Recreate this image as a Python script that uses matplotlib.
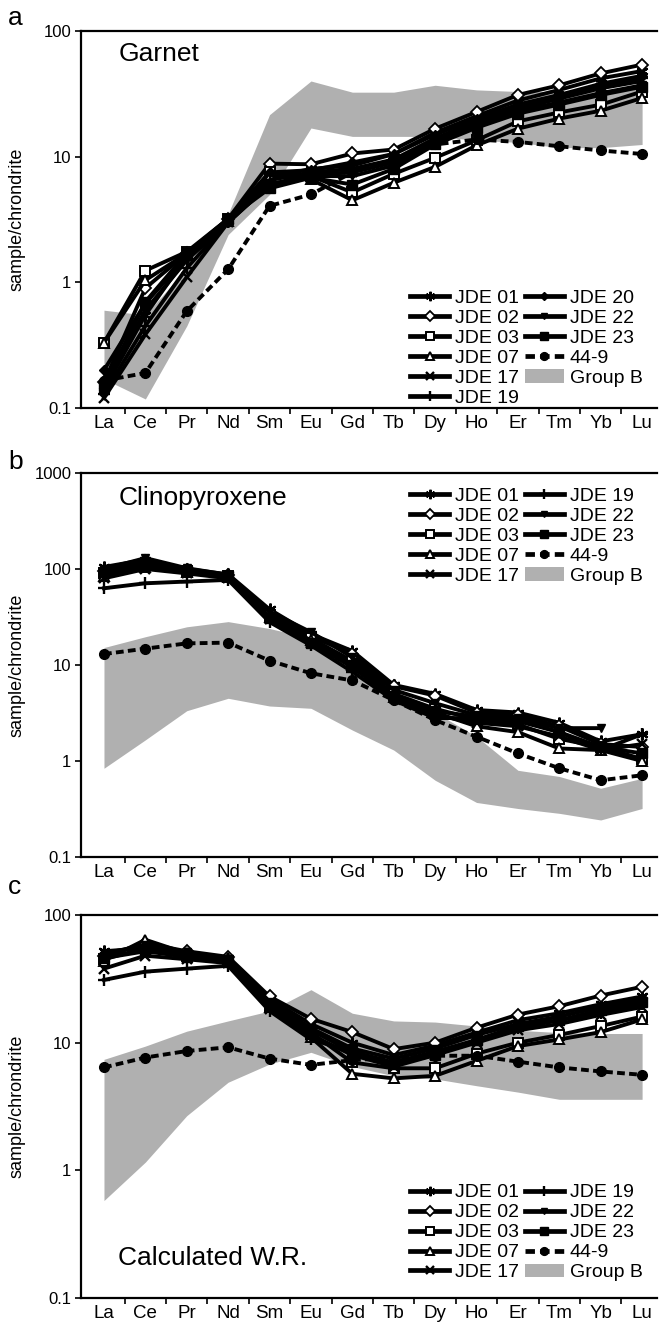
import numpy as np
import matplotlib
matplotlib.use("Agg")
import matplotlib.pyplot as plt
from matplotlib.ticker import FixedLocator, FixedFormatter
from matplotlib.patches import Patch

plt.rcParams['font.family'] = ['Liberation Sans', 'DejaVu Sans']

ree = ["La", "Ce", "Pr", "Nd", "Sm", "Eu", "Gd", "Tb", "Dy", "Ho", "Er", "Tm", "Yb", "Lu"]
x = np.arange(1, len(ree) + 1)

# ---------------- Garnet ----------------
grt_JDE01 = [0.14, 0.55, 1.6, 3.1, 6.8, 8.0, 8.5, 10.5, 15.5, 21, 28, 34, 42, 48]
grt_JDE02 = [0.16, 0.9, 1.7, 3.2, 8.8, 8.7, 10.6, 11.4, 16.7, 22.7, 31, 37, 46, 54]
grt_JDE03 = [0.33, 1.24, 1.75, 3.2, 7.5, 7.0, 5.2, 7.3, 9.8, 13.5, 19.1, 22.5, 25.9, 33]
grt_JDE07 = [0.33, 1.04, 1.7, 3.1, 7.0, 6.6, 4.5, 6.2, 8.3, 12.3, 16.7, 20.1, 23.2, 29.3]
grt_JDE17 = [0.12, 0.385, 1.1, 3.0, 6.0, 7.2, 7.5, 9.0, 13.5, 18, 24, 29, 35, 40]
grt_JDE19 = [0.13, 0.45, 1.3, 3.0, 6.5, 7.5, 8.0, 9.5, 14, 19, 25, 30, 36, 42]
grt_JDE20 = [0.2, 0.68, 1.6, 3.1, 7.5, 7.8, 9.0, 10.5, 15, 20, 26, 31, 38, 44]
grt_JDE22 = [0.15, 0.6, 1.5, 3.0, 6.0, 7.0, 7.0, 8.5, 13, 18, 23, 27, 32, 37]
grt_JDE23 = [0.15, 0.7, 1.7, 3.2, 5.6, 6.8, 6.0, 8.0, 12.5, 17, 22, 26, 31, 36]
grt_449 = [0.165, 0.19, 0.59, 1.27, 4.06, 5.0, 7.5, 9.5, 12.5, 13.7, 13.1, 12.1, 11.2, 10.5]
grt_B_upper = [0.6, 0.55, 1.3, 3.5, 21.6, 40, 32.6, 32.6, 37, 34, 33, 33, 33, 37]
grt_B_lower = [0.17, 0.118, 0.45, 2.4, 5.0, 16.9, 14.5, 14.5, 14.5, 13.5, 13, 11.8, 11.8, 12.5]

# ---------------- Clinopyroxene ----------------
cpx_JDE01 = [105, 125, 100, 88, 38, 21, 14, 6.2, 5.0, 3.4, 3.2, 2.5, 1.6, 1.9]
cpx_JDE02 = [95, 120, 98, 86, 35, 20, 13, 6.0, 4.8, 3.2, 3.0, 2.3, 1.5, 1.4]
cpx_JDE03 = [90, 110, 95, 85, 33, 19, 11, 5.0, 3.5, 2.7, 2.4, 1.7, 1.4, 1.05]
cpx_JDE07 = [85, 105, 92, 82, 32, 18, 10, 4.6, 3.2, 2.3, 2.0, 1.35, 1.3, 1.0]
cpx_JDE17 = [80, 100, 90, 80, 30, 17, 9.5, 4.5, 3.0, 2.5, 2.3, 1.8, 1.3, 1.5]
cpx_JDE19 = [63, 71, 74, 77, 28, 16, 8.5, 4.3, 2.8, 2.8, 2.6, 2.0, 1.3, 1.9]
cpx_JDE22 = [100, 130, 102, 87, 36, 22, 12, 5.5, 4.0, 3.0, 2.8, 2.2, 2.2, np.nan]
cpx_JDE23 = [92, 115, 96, 84, 31, 17, 10, 4.8, 3.3, 2.9, 2.7, 2.0, 1.4, 1.2]
cpx_449 = [13, 14.8, 16.8, 17.1, 11.1, 8.2, 6.9, 4.3, 2.67, 1.79, 1.2, 0.84, 0.63, 0.71]
cpx_B_upper = [15.2, 19.7, 25, 28.3, 24, 19, 11, 6, 3.2, 1.8, 0.8, 0.69, 0.52, 0.66]
cpx_B_lower = [0.84, 1.66, 3.34, 4.5, 3.74, 3.54, 2.1, 1.3, 0.63, 0.37, 0.32, 0.285, 0.243, 0.32]

# ---------------- Calculated whole rock ----------------
wr_JDE01 = [52, 55, 50, 46, 22, 14, 10, 8.0, 9.5, 12, 15, 17, 20, 23]
wr_JDE02 = [48, 60, 52, 47, 23, 15.4, 12.1, 8.9, 10, 13.1, 16.6, 19.3, 23.4, 27.4]
wr_JDE03 = [45, 55, 48, 44, 20, 12, 7.0, 6.3, 6.3, 8.2, 10, 11.5, 13.5, 16]
wr_JDE07 = [44, 64, 50, 46, 19, 11, 5.7, 5.25, 5.5, 7.2, 9.4, 10.6, 12.1, 15.2]
wr_JDE17 = [38, 48, 45, 42, 18.5, 11.5, 8.0, 6.5, 8.0, 10, 12.5, 14, 16.5, 19]
wr_JDE19 = [31, 36, 38, 40, 17.7, 10.6, 8.5, 7.0, 8.5, 10.5, 13, 15, 17, 20]
wr_JDE22 = [50, 58, 51, 45, 21, 13, 9, 7.5, 9.0, 11.5, 14, 16, 19, 22]
wr_JDE23 = [46, 52, 47, 43, 20, 12.5, 8.5, 6.8, 8.0, 10.5, 13.5, 15, 18, 21]
wr_449 = [6.4, 7.65, 8.6, 9.2, 7.5, 6.7, 7.3, 7.6, 7.9, 7.9, 7.1, 6.4, 5.95, 5.6]
wr_B_upper = [7.4, 9.4, 12.3, 14.8, 17.7, 26, 17, 14.8, 14.5, 13.5, 12.5, 12, 11.8, 11.8]
wr_B_lower = [0.58, 1.16, 2.68, 4.9, 6.8, 8.4, 6.5, 5.5, 5.2, 4.6, 4.1, 3.6, 3.6, 3.6]

styles = {
    "JDE 01": dict(marker=(6, 2, 0), mfc='black', ms=8.5, mew=1.6),
    "JDE 02": dict(marker='D', mfc='white', ms=6, mew=1.3),
    "JDE 03": dict(marker='s', mfc='white', ms=7.5, mew=1.4),
    "JDE 07": dict(marker='^', mfc='white', ms=7.5, mew=1.4),
    "JDE 17": dict(marker='x', mfc='black', ms=7.5, mew=1.7),
    "JDE 19": dict(marker='+', mfc='black', ms=8.5, mew=1.7),
    "JDE 20": dict(marker='D', mfc='black', ms=5.5, mew=1.0),
    "JDE 22": dict(marker='v', mfc='black', ms=5.5, mew=1.0),
    "JDE 23": dict(marker='s', mfc='black', ms=7.5, mew=1.0),
    "44-9": dict(marker='o', mfc='black', ms=7, mew=1.0, ls=(0, (2.0, 1.1))),
}

GRAY = '#b0b0b0'

fig = plt.figure(figsize=(6.59, 13.26), dpi=100)
W, H = 659.0, 1326.0


def make_axes(top_px, bot_px):
    left, right = 81.0, 657.0
    return fig.add_axes([left / W, 1 - bot_px / H, (right - left) / W, (bot_px - top_px) / H])


def draw_panel(ax, series, upper, lower, ylim, yticks, title, title_y, letter, letter_y,
               leg_anchor, order):
    ax.fill_between(x, lower, upper, color=GRAY, lw=0, zorder=1)
    handles = {}
    for name, vals in series:
        st = dict(styles[name])
        ls = st.pop('ls', '-')
        h, = ax.plot(x, vals, color='black', lw=2.8, ls=ls, mec='black',
                     zorder=3 if name != "44-9" else 4, label=name, **st)
        handles[name] = h
    handles["Group B"] = Patch(facecolor=GRAY, edgecolor='none')
    ax.set_yscale('log')
    ax.set_ylim(*ylim)
    ax.set_xlim(0.445, 14.36)
    ax.yaxis.set_major_locator(FixedLocator(yticks))
    ax.yaxis.set_major_formatter(FixedFormatter([("%g" % t) for t in yticks]))
    ax.yaxis.set_minor_locator(FixedLocator([]))
    ax.set_xticks(x)
    ax.set_xticklabels(ree, fontsize=13.5)
    ax.xaxis.set_minor_locator(FixedLocator(x[:-1] + 0.5))
    ax.tick_params(axis='x', which='major', length=0, pad=5)
    ax.tick_params(axis='x', which='minor', length=4, width=1.2, direction='out')
    ax.tick_params(axis='y', which='major', length=4, width=1.2, direction='out', labelsize=12, pad=3)
    for s in ['left', 'bottom', 'top']:
        ax.spines[s].set_linewidth(1.6)
    ax.spines['right'].set_visible(False)
    ax.set_ylabel("sample/chrondrite", fontsize=13)
    ax.yaxis.set_label_coords(-0.097, 0.5)
    ax.text(0.065, title_y, title, transform=ax.transAxes, fontsize=19, va='center', ha='left')
    fig.text(8 / W, 1 - letter_y / H, letter, fontsize=19, va='center', ha='left')
    leg = ax.legend([handles[n] for n in order], order, loc='upper left', bbox_to_anchor=leg_anchor,
                    ncol=2, frameon=False, fontsize=14, handlelength=2.0, handletextpad=0.3,
                    columnspacing=0.3, labelspacing=0.12, borderpad=0, borderaxespad=0,
                    markerscale=0.8)
    for lh in leg.get_lines():
        lh.set_linewidth(3.4)


axa = make_axes(31, 408)
series_a = [("JDE 01", grt_JDE01), ("JDE 02", grt_JDE02), ("JDE 03", grt_JDE03), ("JDE 07", grt_JDE07),
            ("JDE 17", grt_JDE17), ("JDE 19", grt_JDE19), ("JDE 20", grt_JDE20), ("JDE 22", grt_JDE22),
            ("JDE 23", grt_JDE23), ("44-9", grt_449)]
order_a = ["JDE 01", "JDE 02", "JDE 03", "JDE 07", "JDE 17", "JDE 19",
           "JDE 20", "JDE 22", "JDE 23", "44-9", "Group B"]
draw_panel(axa, series_a, grt_B_upper, grt_B_lower, (0.1, 100), [0.1, 1, 10, 100], "Garnet", 0.94,
           "a", 18, (0.572, 0.315), order_a)

axb = make_axes(473, 857)
series_b = [("JDE 01", cpx_JDE01), ("JDE 02", cpx_JDE02), ("JDE 03", cpx_JDE03), ("JDE 07", cpx_JDE07),
            ("JDE 17", cpx_JDE17), ("JDE 19", cpx_JDE19), ("JDE 22", cpx_JDE22),
            ("JDE 23", cpx_JDE23), ("44-9", cpx_449)]
order_b = ["JDE 01", "JDE 02", "JDE 03", "JDE 07", "JDE 17",
           "JDE 19", "JDE 22", "JDE 23", "44-9", "Group B"]
draw_panel(axb, series_b, cpx_B_upper, cpx_B_lower, (0.1, 1000), [0.1, 1, 10, 100, 1000], "Clinopyroxene",
           0.935, "b", 462, (0.572, 0.962), order_b)

axc = make_axes(915, 1298)
series_c = [("JDE 01", wr_JDE01), ("JDE 02", wr_JDE02), ("JDE 03", wr_JDE03), ("JDE 07", wr_JDE07),
            ("JDE 17", wr_JDE17), ("JDE 19", wr_JDE19), ("JDE 22", wr_JDE22),
            ("JDE 23", wr_JDE23), ("44-9", wr_449)]
draw_panel(axc, series_c, wr_B_upper, wr_B_lower, (0.1, 100), [0.1, 1, 10, 100], "Calculated W.R.",
           0.105, "c", 887, (0.572, 0.298), order_b)

fig.savefig("out.png", dpi=100)
